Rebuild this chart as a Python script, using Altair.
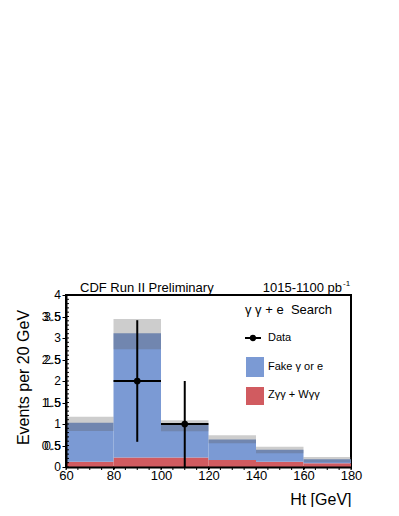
import altair as alt
import pandas as pd

# ---- data ----
bin_lo = [60, 80, 100, 120, 140, 160]
bin_hi = [80, 100, 120, 140, 160, 180]
zw_gg = [0.12, 0.22, 0.22, 0.16, 0.12, 0.085]          # Zgg + Wgg (red)
total_bkg = [1.03, 3.11, 0.98, 0.64, 0.40, 0.18]       # fake + Zgg/Wgg (blue top)
band_lo = [0.84, 2.74, 0.83, 0.55, 0.32, 0.11]         # uncertainty band
band_hi = [1.17, 3.44, 1.09, 0.74, 0.47, 0.23]

data_x = [90, 110]
data_y = [2, 1]
data_xlo = [80, 100]
data_xhi = [100, 120]
data_ylo = [0.586, 0.0]
data_yhi = [3.414, 2.0]

x_major = [60, 80, 100, 120, 140, 160, 180]
y_major = [0.0, 0.5, 1.0, 1.5, 2.0, 2.5, 3.0, 3.5, 4.0]
y_labels = ["0", "0.5", "1", "1.5", "2", "2.5", "3", "3.5", "4"]
x_minor = list(range(60, 181, 5))
y_minor = [round(i * 0.1, 1) for i in range(41)]

BLUE = "#7b9ad4"
RED = "#d15b60"
FONT = "Liberation Sans"

bkg = pd.DataFrame({"lo": bin_lo, "hi": bin_hi, "zw": zw_gg,
                    "tot": total_bkg, "blo": band_lo, "bhi": band_hi})
pts = pd.DataFrame({"x": data_x, "y": data_y, "xlo": data_xlo, "xhi": data_xhi,
                    "ylo": data_ylo, "yhi": data_yhi})
xmin_df = pd.DataFrame({"v": x_minor})
ymin_df = pd.DataFrame({"v": y_minor})
one = pd.DataFrame({"k": [0]})

xscale = alt.Scale(domain=[60, 180], nice=False, zero=False)
yscale = alt.Scale(domain=[0, 4], nice=False)

xaxis = alt.Axis(
    values=x_major, format="d",
    labelOverlap=False, labelFontSize=13, labelFont=FONT, labelColor="black",
    labelPadding=0, labelFlush=False,
    tickColor="black", tickWidth=1, tickSize=2,
    domainColor="black", domainWidth=2,
    grid=False, zindex=1,
    title="Ht [GeV]", titleFont=FONT, titleFontSize=16, titleFontWeight="normal",
    titleColor="black", titleAlign="right", titleAnchor="end",
    titleX=285, titleY=37, titleBaseline="alphabetic",
)
yaxis = alt.Axis(
    values=y_major, labels=False,
    tickColor="black", tickWidth=1, tickSize=4,
    domainColor="black", domainWidth=2,
    grid=False, zindex=1,
    title="Events per 20 GeV", titleFont=FONT, titleFontSize=16, titleFontWeight="normal",
    titleColor="black", titleX=-38, titleY=82, titleBaseline="alphabetic",
    titleAlign="center", titleAngle=270,
)

def X(f):
    return alt.X(f, type="quantitative", scale=xscale, axis=xaxis)

def Y(f):
    return alt.Y(f, type="quantitative", scale=yscale, axis=yaxis)

red = alt.Chart(bkg).mark_rect(color=RED).encode(
    x=X("lo"), x2="hi:Q", y=Y("zw"), y2=alt.datum(0),
)
blue = alt.Chart(bkg).mark_rect(color=BLUE).encode(
    x=X("lo"), x2="hi:Q", y=Y("tot"), y2="zw:Q",
)
band = alt.Chart(bkg).mark_rect(color="#5a5a5a", opacity=0.3).encode(
    x=X("lo"), x2="hi:Q", y=Y("bhi"), y2="blo:Q",
)
hbar = alt.Chart(pts).mark_rule(color="black", strokeWidth=2).encode(
    x=X("xlo"), x2="xhi:Q", y=Y("y"),
)
vbar = alt.Chart(pts).mark_rule(color="black", strokeWidth=2).encode(
    x=X("x"), y=Y("ylo"), y2="yhi:Q",
)
dots = alt.Chart(pts).mark_point(filled=True, color="black", opacity=1, size=45).encode(
    x=X("x"), y=Y("y"),
)
# minor ticks: inward on the y axis, outward below the x axis
yminor = alt.Chart(ymin_df).mark_rule(color="black", strokeWidth=1).encode(
    y=Y("v"), x=alt.value(0), x2=alt.value(3),
)
xminor = alt.Chart(xmin_df).mark_rule(color="black", strokeWidth=1).encode(
    x=X("v"), y=alt.value(172), y2=alt.value(175),
)
# y tick labels, each placed through the y scale
ylabel_layers = [
    alt.Chart(one).mark_text(text=lab, font=FONT, fontSize=12, color="black",
                             align="right", baseline="middle").encode(
        y=alt.Y(datum=v, type="quantitative", scale=yscale, axis=yaxis),
        x=alt.value(-5),
    )
    for v, lab in zip(y_major, y_labels)
]
# same half-step labels written with the one-dot-leader glyph as a fallback
ylabel_alt = [
    alt.Chart(one).mark_text(text=lab.replace(".", "\u2024"), font=FONT, fontSize=12,
                             color="black", align="right", baseline="middle").encode(
        y=alt.Y(datum=v, type="quantitative", scale=yscale, axis=yaxis),
        x=alt.value(-5),
    )
    for v, lab in zip(y_major, y_labels) if "." in lab
]

def txt(s, x, y, size, align="left", baseline="middle"):
    return alt.Chart(one).mark_text(text=s, font=FONT, fontSize=size, color="black",
                                    align=align, baseline=baseline).encode(
        x=alt.value(x), y=alt.value(y))

title_l = txt("CDF Run II Preliminary", 14, -3, 13, baseline="alphabetic")
title_r = txt("1015-1100 pb", 276, -3, 13, align="right", baseline="alphabetic")
title_sup = txt("-1", 277, -11, 8)

leg_title = txt("γ γ + e\u00a0\u00a0Search", 179, 15, 13)
leg_line = alt.Chart(one).mark_rule(color="black", strokeWidth=2).encode(
    x=alt.value(179), x2=alt.value(195), y=alt.value(43))
leg_dot = alt.Chart(one).mark_point(filled=True, color="black", opacity=1, size=40).encode(
    x=alt.value(187), y=alt.value(43))
leg_data = txt("Data", 202, 43, 11)
leg_blue = alt.Chart(one).mark_rect(color=BLUE).encode(
    x=alt.value(180), x2=alt.value(198), y=alt.value(62), y2=alt.value(82))
leg_fake = txt("Fake γ or e", 202, 72, 11)
leg_red = alt.Chart(one).mark_rect(color=RED).encode(
    x=alt.value(180), x2=alt.value(198), y=alt.value(92), y2=alt.value(110))
leg_zw = txt("Zγγ + Wγγ", 202, 100, 11)

chart = alt.layer(
    red, blue, band, hbar, vbar, dots, yminor, xminor, *ylabel_layers, *ylabel_alt,
    title_l, title_r, title_sup,
    leg_title, leg_line, leg_dot, leg_data, leg_blue, leg_fake, leg_red, leg_zw,
).properties(
    width=285, height=172,
    autosize=alt.AutoSizeParams(type="none"),
    padding={"left": 58, "top": 287, "right": 30, "bottom": 40},
).configure_view(
    stroke="black", strokeWidth=2,
)

chart.save("out.html", embed_options={"renderer": "svg", "actions": False})
